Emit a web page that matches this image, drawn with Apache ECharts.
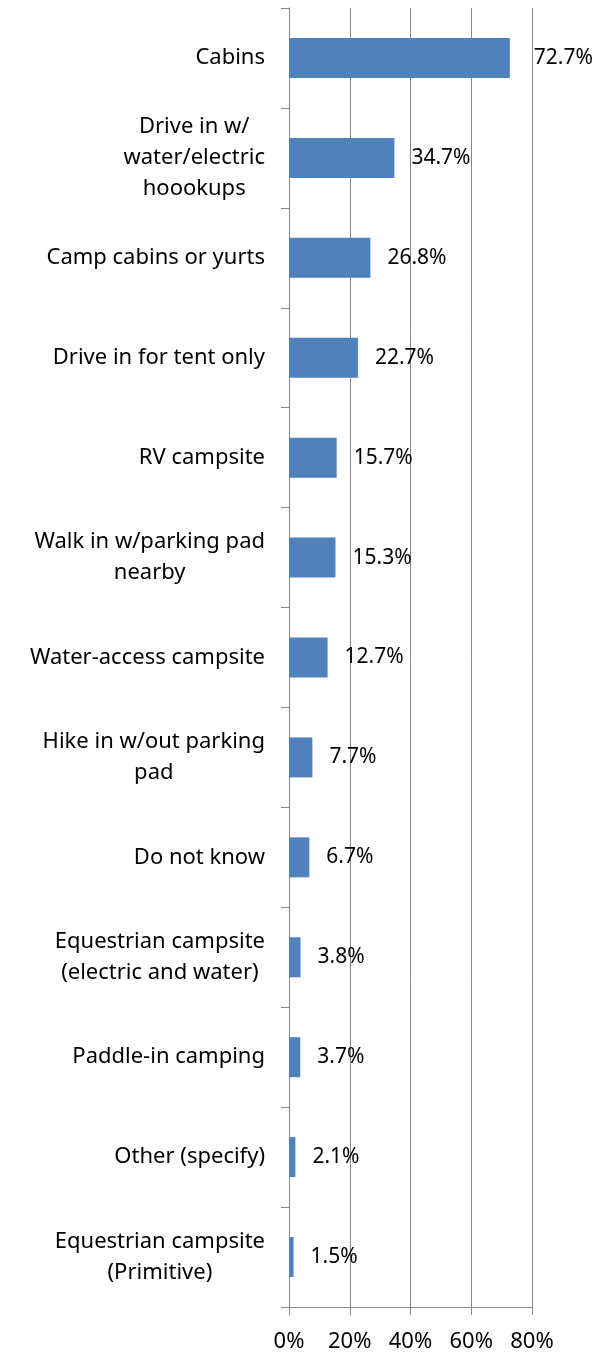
<!DOCTYPE html>
<html><head><meta charset="utf-8">
<script src="https://cdn.jsdelivr.net/npm/echarts@6/dist/echarts.min.js"></script>
<style>html,body{margin:0;padding:0;background:#fff}#c{width:613px;height:1355px}</style>
</head><body><div id="c"></div>
<script>
const categories = [
  ['Cabins'],
  ['Drive in w/','water/electric','hoookups'],
  ['Camp cabins or yurts'],
  ['Drive in for tent only'],
  ['RV campsite'],
  ['Walk in w/parking pad','nearby'],
  ['Water-access campsite'],
  ['Hike in w/out parking','pad'],
  ['Do not know'],
  ['Equestrian campsite','(electric and water)'],
  ['Paddle-in camping'],
  ['Other (specify)'],
  ['Equestrian campsite','(Primitive)']
];
const values = [72.7, 34.7, 26.8, 22.7, 15.7, 15.3, 12.7, 7.7, 6.7, 3.8, 3.7, 2.1, 1.5];
const xTicks = [0, 20, 40, 60, 80];

const FONT = 'Noto Sans';
const chart = echarts.init(document.getElementById('c'));
chart.setOption({
  animation: false,
  grid: { left: 289, right: 81, top: 8, bottom: 48, containLabel: false },
  xAxis: {
    type: 'value', min: xTicks[0], max: xTicks[xTicks.length - 1], interval: xTicks[1] - xTicks[0],
    axisLine: { show: true, lineStyle: { color: '#868686', width: 1 } },
    axisTick: { show: true, length: 8, lineStyle: { color: '#868686' } },
    splitLine: { show: true, lineStyle: { color: '#868686', width: 1 } },
    axisLabel: { margin: 24, color: '#000', fontFamily: FONT, fontSize: 22,
      formatter: v => v + '%' }
  },
  yAxis: {
    type: 'category', inverse: true,
    data: categories.map(c => c.join('\n')),
    axisLine: { show: true, lineStyle: { color: '#868686', width: 1 } },
    axisTick: { show: true, length: 8, lineStyle: { color: '#868686' } },
    axisLabel: {
      margin: 24, color: '#000', fontFamily: FONT, fontSize: 22, align: 'right',
      lineHeight: 31,
      formatter: v => v.split('\n').map(s => '{a|' + s + '}').join('\n'),
      rich: { a: { align: 'center', fontFamily: FONT, fontSize: 22, lineHeight: 31, color: '#000' } }
    }
  },
  series: [{
    type: 'bar',
    data: values.map((v, i) => i === 0 ? { value: v, label: { distance: 24 } } : v),
    barWidth: 40,
    itemStyle: { color: '#4f81bd' },
    label: { show: true, position: 'right', distance: 17, color: '#000',
      fontFamily: FONT, fontSize: 21, formatter: p => p.value.toFixed(1) + '%' }
  }]
});
</script></body></html>
